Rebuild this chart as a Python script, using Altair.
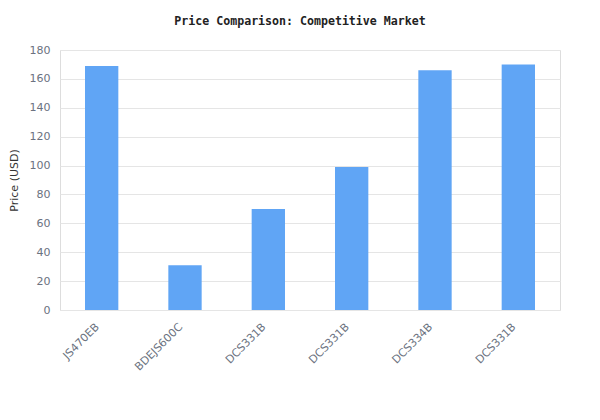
import altair as alt
import pandas as pd

models = ["JS470EB", "BDEJS600C", "DCS331B", "DCS331B", "DCS334B", "DCS331B"]
prices = [169, 31, 70, 99, 166, 170]

df = pd.DataFrame({"idx": list(range(len(models))), "model": models, "price": prices})

label_expr = "[" + ",".join("'" + m + "'" for m in models) + "][datum.value]"

chart = alt.Chart(df).mark_bar(color="#60a5f5").encode(
    x=alt.X("idx:O", title=None,
            scale=alt.Scale(paddingInner=0.6, paddingOuter=0.3),
            axis=alt.Axis(labelExpr=label_expr, labelAngle=-45, labelAlign="right",
                          labelBaseline="middle", ticks=False, domain=False, grid=False,
                          labelColor="#6b7280", labelFont="DejaVu Sans", labelFontSize=11,
                          labelPadding=15, labelOffset=-4)),
    y=alt.Y("price:Q", title="Price (USD)",
            scale=alt.Scale(domain=[0, 180]),
            axis=alt.Axis(values=list(range(0, 181, 20)), ticks=False, domain=False,
                          gridColor="#e5e5e5", labelColor="#6b7280", labelFont="DejaVu Sans",
                          labelFontSize=11, labelPadding=10, titleColor="#333333",
                          titleFont="DejaVu Sans", titleFontSize=11, titleFontWeight="normal",
                          titlePadding=10)),
).properties(
    width=500, height=260,
    title=alt.TitleParams("Price Comparison: Competitive Market", font="DejaVu Sans Mono",
                          fontSize=11.6, fontWeight="bold", color="#222222", dx=-10, offset=16),
    autosize="none",
    padding={"left": 52, "top": 42, "right": 32, "bottom": 96},
).configure_view(stroke="#dddddd", strokeWidth=1)

chart.save("out.html", embed_options={"renderer": "svg", "actions": False})
